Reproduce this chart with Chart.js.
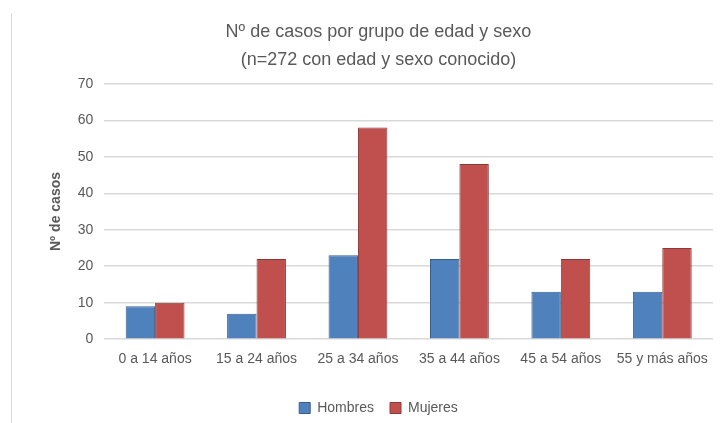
<!DOCTYPE html>
<html>
<head>
<meta charset="utf-8">
<script src="https://cdn.jsdelivr.net/npm/chart.js@4"></script>
<style>
  html, body { margin: 0; padding: 0; background: #fff; }
  #frame { position: absolute; left: 11px; top: 13px; width: 714px; height: 410px; border-left: 1px solid #d9d9d9; }
  #wrap { position: absolute; left: 12px; top: 0; width: 713px; height: 423px; }
</style>
</head>
<body>
<div id="frame"></div>
<div id="wrap"><canvas id="chart"></canvas></div>
<script>
const categories = ['0 a 14 años', '15 a 24 años', '25 a 34 años', '35 a 44 años', '45 a 54 años', '55 y más años'];
const hombres = [9, 7, 23, 22, 13, 13];
const mujeres = [10, 22, 58, 48, 22, 25];
const titleLines = ['Nº de casos por grupo de edad y sexo', '(n=272 con edad y sexo conocido)'];
const yTitle = 'Nº de casos';

const font = "'Liberation Sans', Arial, sans-serif";
const grey = '#595959';

const ctx = document.getElementById('chart').getContext('2d');
const chart = new Chart(ctx, {
  type: 'bar',
  data: {
    labels: categories,
    datasets: [
      {
        label: 'Hombres',
        data: hombres,
        backgroundColor: '#4F81BD',
        borderColor: '#385D8A',
        borderWidth: 1
      },
      {
        label: 'Mujeres',
        data: mujeres,
        backgroundColor: '#C0504D',
        borderColor: '#8C3836',
        borderWidth: 1
      }
    ]
  },
  options: {
    responsive: true,
    maintainAspectRatio: false,
    animation: false,
    layout: { padding: { left: 32, right: 12, top: 18, bottom: -2 } },
    datasets: { bar: { categoryPercentage: 0.58, barPercentage: 1 } },
    plugins: {
      title: {
        display: true,
        text: titleLines,
        color: grey,
        font: { family: font, size: 18, weight: 'normal', lineHeight: 1.55 },
        padding: { top: 0, bottom: 10 }
      },
      legend: {
        position: 'bottom',
        title: { display: true, text: '', font: { size: 1, lineHeight: 1 }, padding: { top: 4, bottom: 0 } },
        labels: {
          color: grey,
          font: { family: font, size: 14 },
          boxWidth: 11,
          boxHeight: 11,
          padding: 16
        }
      },
      tooltip: { enabled: false }
    },
    scales: {
      x: {
        grid: { display: false, drawTicks: false },
        border: { display: false },
        ticks: { color: grey, font: { family: font, size: 14 }, padding: 12, maxRotation: 0 }
      },
      y: {
        min: 0,
        max: 70,
        ticks: { stepSize: 10, color: grey, font: { family: font, size: 14 }, padding: 11 },
        grid: { color: '#d9d9d9', lineWidth: 1.5, drawTicks: false },
        border: { display: false },
        title: {
          display: true,
          text: yTitle,
          color: grey,
          font: { family: font, size: 14, weight: 'bold' },
          padding: { bottom: 2 }
        }
      }
    }
  }
});
</script>
</body>
</html>
